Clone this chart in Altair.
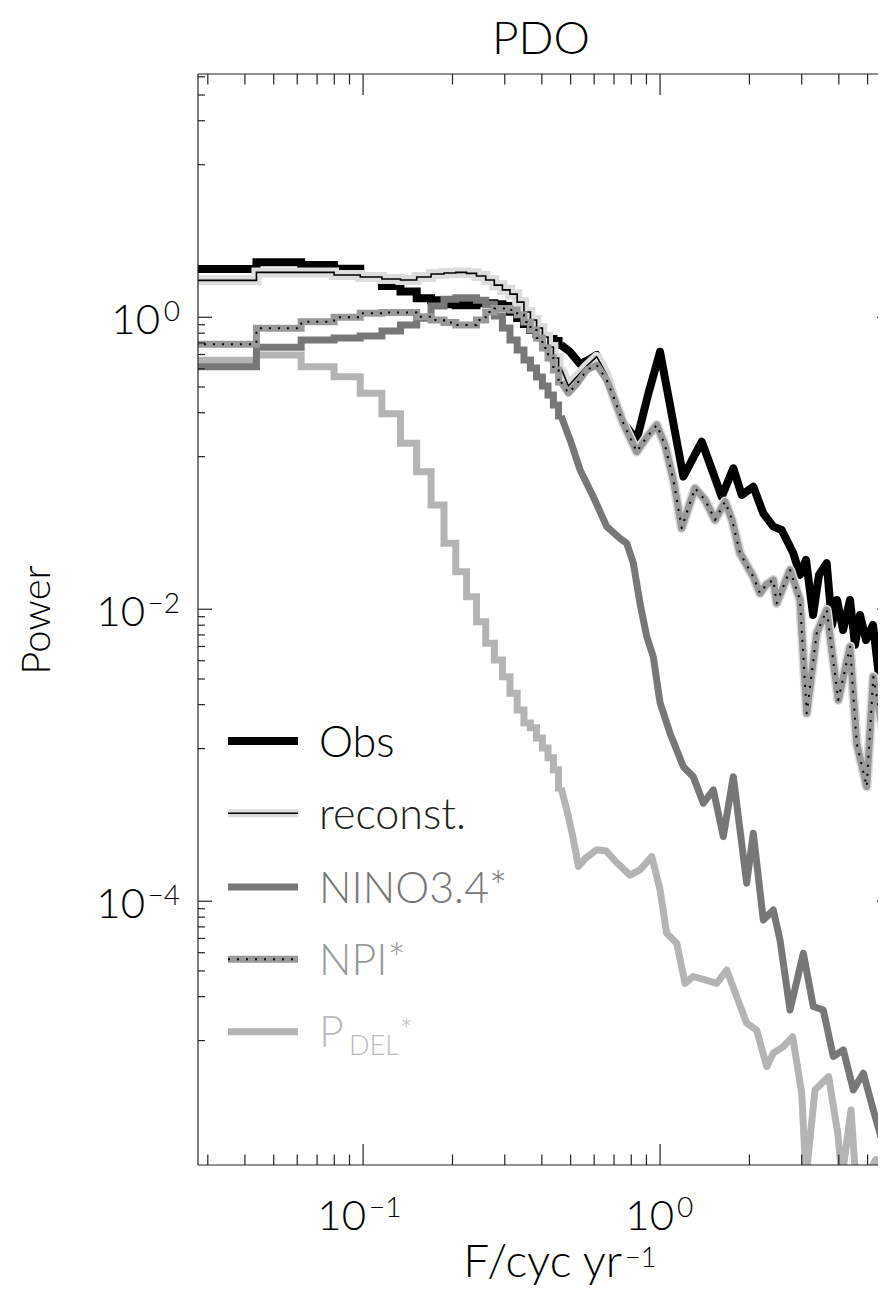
import altair as alt
import pandas as pd

W, H = 680, 1091          # plot area (its right edge falls on the page edge)
W_FULL = 693              # where the right axis of the original sits
FONT = "Lato"
FW = 300

# ---------------- data ----------------
# low-frequency stepped part (frequency grid, cyc/yr)
F_LO = [0.01786, 0.03571, 0.05357, 0.07143, 0.08929, 0.10714, 0.125, 0.14286,
        0.16071, 0.17857, 0.19643, 0.21429, 0.23214, 0.25, 0.26786, 0.28571,
        0.30357, 0.32143, 0.33929, 0.35714, 0.375, 0.39286, 0.41071, 0.42857,
        0.44643, 0.46429]

OBS_LO = [2.14, 2.14, 2.38, 2.28, 2.15, 1.89, 1.64, 1.50, 1.35, 1.31, 1.23, 1.21,
          1.21, 1.25, 1.25, 1.23, 1.195, 1.09, 0.989, 0.90, 0.818, 0.768, 0.733,
          0.710, 0.688, 0.646]
RECON_LO = [1.79, 1.79, 2.03, 2.03, 1.95, 1.89, 1.83, 1.80, 1.89, 1.98, 2.01, 2.03,
            2.0, 1.92, 1.80, 1.66, 1.54, 1.44, 1.27, 1.087, 0.958, 0.845, 0.733,
            0.626, 0.526, 0.449]
NINO_LO = [0.459, 0.459, 0.623, 0.699, 0.72, 0.745, 0.806, 0.886, 0.984, 1.195,
           1.33, 1.36, 1.36, 1.31, 1.23, 1.02, 0.845, 0.699, 0.597, 0.51, 0.449,
           0.39, 0.338, 0.294, 0.251, 0.211]
NPI_LO = [0.653, 0.653, 0.841, 0.933, 1.0, 1.065, 1.08, 1.08, 1.01, 0.958, 0.921,
          0.886, 0.886, 0.958, 1.087, 1.15, 1.15, 1.12, 1.04, 0.929, 0.818, 0.72,
          0.616, 0.526, 0.4356, 0.36]
PDEL_LO = [0.507, 0.507, 0.552, 0.459, 0.392, 0.3016, 0.218, 0.137, 0.0876, 0.0518,
           0.0283, 0.0181, 0.0122, 0.00822, 0.00585, 0.0045, 0.00345, 0.00266,
           0.00204, 0.00166, 0.00154, 0.00131, 0.00112, 0.00096, 0.000794, 0.000597]

# high-frequency part (read at peaks and troughs)
OBS_HI_F = [0.498, 0.538, 0.572, 0.612, 0.6615, 0.6964, 0.752, 0.8346, 0.911, 1.0,
            1.198, 1.382, 1.613, 1.765, 1.884, 2.061, 2.227, 2.407, 2.569, 2.811,
            2.96, 3.101, 3.276, 3.43, 3.641, 3.794, 3.945, 4.133, 4.363, 4.535,
            4.714, 4.939, 5.214, 5.505, 5.72, 5.95]
OBS_HI_P = [0.579, 0.479, 0.510, 0.552, 0.403, 0.286, 0.19, 0.1444, 0.294, 0.581,
            0.081, 0.1406, 0.059, 0.0924, 0.0607, 0.0691, 0.0454, 0.0368, 0.0349,
            0.0242, 0.0172, 0.0218, 0.00914, 0.0172, 0.0207, 0.0078, 0.01158,
            0.00721, 0.01158, 0.0057, 0.00914, 0.00616, 0.0078, 0.00303, 0.00886,
            0.00526]

RECON_HI_F = [0.491, 0.5665, 0.612, 0.6615, 0.6964, 0.752, 0.8346, 0.902, 0.975,
              1.039, 1.109, 1.183, 1.223, 1.311, 1.418, 1.532, 1.655, 1.748, 1.859,
              2.061, 2.171, 2.275, 2.407, 2.471, 2.74, 2.96, 3.119, 3.37, 3.641,
              3.984, 4.363, 4.596, 4.966, 5.226, 5.648, 5.95]
RECON_HI_P = [0.338, 0.464, 0.537, 0.403, 0.286, 0.188, 0.12, 0.151, 0.183, 0.1334,
              0.0768, 0.036, 0.0443, 0.0674, 0.0561, 0.0409, 0.0546, 0.0409, 0.0242,
              0.0167, 0.01287, 0.01467, 0.0159, 0.011, 0.0186, 0.01158, 0.00194,
              0.00685, 0.0099, 0.00239, 0.00554, 0.0012, 0.00061, 0.00345, 0.00141,
              0.000579]

NPI_HI_F = [0.491, 0.521, 0.5665, 0.612, 0.6615, 0.6964, 0.752, 0.8346, 0.902,
            0.975, 1.039, 1.109, 1.183, 1.223, 1.311, 1.418, 1.532, 1.655, 1.748,
            1.859, 2.061, 2.171, 2.275, 2.407, 2.471, 2.74, 2.96, 3.119, 3.37,
            3.641, 3.984, 4.363, 4.596, 4.966, 5.226, 5.648, 5.95]
NPI_HI_P = [0.303, 0.344, 0.4356, 0.471, 0.372, 0.286, 0.188, 0.12, 0.151, 0.183,
            0.1334, 0.0768, 0.036, 0.0443, 0.0674, 0.0561, 0.0409, 0.0546, 0.0409,
            0.0242, 0.0167, 0.01287, 0.01467, 0.0159, 0.011, 0.0186, 0.01158,
            0.00194, 0.00685, 0.0099, 0.00239, 0.00554, 0.0012, 0.00061, 0.00345,
            0.00141, 0.000579]

NINO_HI_F = [0.498, 0.538, 0.596, 0.6615, 0.733, 0.7725, 0.813, 0.856, 0.902,
             0.949, 1.0, 1.081, 1.198, 1.294, 1.399, 1.512, 1.633, 1.765, 1.958,
             2.061, 2.227, 2.407, 2.535, 2.74, 3.038, 3.282, 3.546, 3.832, 4.143,
             4.476, 4.836, 5.226, 5.62, 5.95]
NINO_HI_P = [0.1444, 0.09, 0.059, 0.0368, 0.0306, 0.0283, 0.0207, 0.011, 0.00649,
             0.00473, 0.00229, 0.00141, 0.000835, 0.000713, 0.000469, 0.000579,
             0.000277, 0.000713, 0.000133, 0.000292, 7.44e-5, 8.72e-5, 5.43e-5,
             1.80e-5, 4.40e-5, 1.90e-5, 1.80e-5, 8.62e-6, 9.58e-6, 5.10e-6, 6.64e-6,
             3.72e-6, 2.21e-6, 2.5e-6]

PDEL_HI_F = [0.49, 0.5095, 0.531, 0.563, 0.612, 0.658, 0.711, 0.792, 0.856, 0.938,
             1.0, 1.053, 1.138, 1.214, 1.294, 1.418, 1.552, 1.677, 1.812, 1.958,
             2.116, 2.287, 2.407, 2.601, 2.796, 3.0, 3.101, 3.326, 3.696, 3.966,
             4.101, 4.397, 4.556, 5.054, 5.337, 5.767]
PDEL_HI_P = [0.00039, 0.000271, 0.000173, 0.000198, 0.000225, 0.000221, 0.000186,
             0.000151, 0.000164, 0.000202, 0.0001195, 6.04e-5, 5.16e-5, 2.74e-5,
             3.05e-5, 2.89e-5, 2.74e-5, 3.38e-5, 2.22e-5, 1.46e-5, 1.31e-5, 7.36e-6,
             9.10e-6, 1.01e-5, 1.18e-5, 4.84e-6, 1.28e-6, 5.10e-6, 6.29e-6, 2.58e-6,
             1.28e-6, 3.72e-6, 1.28e-6, 1.4e-6, 1.7e-6, 1.28e-6]

# axes
X_DOMAIN = [0.0278, 5.42]
Y_DOMAIN = [1.56e-6, 46.4]
X_MAJOR = [0.1, 1.0]
X_MINOR = [0.03, 0.04, 0.05, 0.06, 0.07, 0.08, 0.09, 0.2, 0.3, 0.4, 0.5, 0.6,
           0.7, 0.8, 0.9, 2.0, 3.0, 4.0, 5.0]
X_EXP = ["\u22121", "0"]
Y_MAJOR = [1e-4, 1e-2, 1.0]
Y_MINOR = [1.11e-5, 2.22e-5, 3.33e-5, 4.44e-5, 5.56e-5, 6.67e-5, 7.78e-5, 8.89e-5,
           1.11e-3, 2.22e-3, 3.33e-3, 4.44e-3, 5.56e-3, 6.67e-3, 7.78e-3, 8.89e-3,
           0.111, 0.222, 0.333, 0.444, 0.556, 0.667, 0.778, 0.889,
           11.1, 22.2, 33.3, 44.4]
Y_EXP = ["\u22124", "\u22122", "0"]

LEGEND = ["Obs", "reconst.", "NINO3.4*", "NPI*", "P"]

# ---------------- chart ----------------
xs = alt.Scale(type="log", domain=X_DOMAIN, nice=False)
ys = alt.Scale(type="log", domain=Y_DOMAIN, nice=False)


def df_lo(vals):
    return pd.DataFrame({"f": F_LO, "p": vals})


def df_hi(fs, ps, lo_vals):
    return pd.DataFrame({"f": [F_LO[-1]] + list(fs), "p": [lo_vals[-1]] + list(ps)})


def line(df, color, width, interp, dash=None):
    kw = dict(color=color, strokeWidth=width, interpolate=interp, clip=True,
              strokeJoin="round" if interp == "linear" else "miter")
    if dash:
        kw["strokeDash"] = dash
    return alt.Chart(df).mark_line(**kw).encode(
        x=alt.X("f:Q", scale=xs, axis=None),
        y=alt.Y("p:Q", scale=ys, axis=None),
    )


def series(lo, hf, hp, color, width, dash=None):
    return [line(df_lo(lo), color, width, "step", dash),
            line(df_hi(hf, hp, lo), color, width, "linear", dash)]


layers = []
layers += series(OBS_LO, OBS_HI_F, OBS_HI_P, "#000000", 8)
layers += series(RECON_LO, RECON_HI_F, RECON_HI_P, "#dcdcdc", 10)
layers += series(RECON_LO, RECON_HI_F, RECON_HI_P, "#000000", 1.6)
layers += series(PDEL_LO, PDEL_HI_F, PDEL_HI_P, "#b4b4b4", 7)
layers += series(NINO_LO, NINO_HI_F, NINO_HI_P, "#777777", 7)
layers += series(NPI_LO, NPI_HI_F, NPI_HI_P, "#999999", 7)
layers += series(NPI_LO, NPI_HI_F, NPI_HI_P, "#000000", 2, dash=[2, 7])

one = pd.DataFrame({"a": [0]})

# frame (left, top, bottom; the right one lies past the page edge)
AX = "#222222"
layers.append(alt.Chart(one).mark_rule(color=AX, strokeWidth=1.2).encode(
    x=alt.value(0), y=alt.value(0), y2=alt.value(H)))
for yy in (0, H):
    layers.append(alt.Chart(one).mark_rule(color=AX, strokeWidth=1.2).encode(
        x=alt.value(0), x2=alt.value(W_FULL), y=alt.value(yy)))


def xticks(vals, length):
    d = pd.DataFrame({"v": vals})
    out = []
    for y0, y1 in [(H, H - length), (0, length)]:
        out.append(alt.Chart(d).mark_rule(color=AX, strokeWidth=1.2).encode(
            x=alt.X("v:Q", scale=xs, axis=None), y=alt.value(y0), y2=alt.value(y1)))
    return out


def yticks(vals, length):
    d = pd.DataFrame({"v": vals})
    out = []
    for x0, x1 in [(0, length), (W_FULL, W_FULL - length)]:
        out.append(alt.Chart(d).mark_rule(color=AX, strokeWidth=1.2).encode(
            y=alt.Y("v:Q", scale=ys, axis=None), x=alt.value(x0), x2=alt.value(x1)))
    return out


layers += xticks(X_MINOR, 10.5) + xticks(X_MAJOR, 21)
layers += yticks(Y_MINOR, 7) + yticks(Y_MAJOR, 14)


def tlabel(enc, text, size, align, dx, dy, color="black"):
    return alt.Chart(enc[0]).mark_text(
        text=text, font=FONT, fontWeight=FW, fontSize=size, align=align,
        baseline="alphabetic", dx=dx, dy=dy, color=color).encode(**enc[1])


# x tick labels: "10" plus a raised exponent
for v, e, bdx, sdx in zip(X_MAJOR, X_EXP, [3, 14], [6, 17]):
    d = pd.DataFrame({"v": [v]})
    enc = (d, dict(x=alt.X("v:Q", scale=xs, axis=None), y=alt.value(H)))
    layers.append(tlabel(enc, "10", 42, "right", bdx, 65))
    layers.append(tlabel(enc, e, 28, "left", sdx, 52))

# y tick labels
for v, e, bx in zip(Y_MAJOR, Y_EXP, [-53, -53, -38]):
    d = pd.DataFrame({"v": [v]})
    enc_b = (d, dict(y=alt.Y("v:Q", scale=ys, axis=None), x=alt.value(bx)))
    enc_s = (d, dict(y=alt.Y("v:Q", scale=ys, axis=None), x=alt.value(-18)))
    layers.append(tlabel(enc_b, "10", 42, "right", 0, 17))
    layers.append(tlabel(enc_s, e, 28, "right", 0, 4))


def txt(s, x, y, size, color="black", align="left", baseline="alphabetic", angle=0):
    kw = dict(text=s, font=FONT, fontSize=size, fontWeight=FW, color=color,
              align=align, baseline=baseline)
    if angle:
        kw["angle"] = angle
    return alt.Chart(one).mark_text(**kw).encode(x=alt.value(x), y=alt.value(y))


# titles
layers.append(txt("PDO", 343, -20, 46, align="center"))
layers.append(txt("F/cyc yr", 424, H + 112, 46, align="right"))
layers.append(txt("\u22121", 427, H + 102, 27))
layers.append(txt("Power", -148, 546, 40, align="center", angle=270))

# legend
ROW_Y = [667, 739.3, 813, 885.3, 957.7]
LX0, LX1, TX = 30, 100, 121


def seg(y, color, width, dash=None):
    kw = dict(color=color, strokeWidth=width)
    if dash:
        kw["strokeDash"] = dash
    return alt.Chart(one).mark_rule(**kw).encode(
        x=alt.value(LX0), x2=alt.value(LX1), y=alt.value(y))


layers.append(seg(ROW_Y[0], "#000000", 8))
layers.append(seg(ROW_Y[1], "#dcdcdc", 8))
layers.append(seg(ROW_Y[1], "#000000", 1.6))
layers.append(seg(ROW_Y[2], "#777777", 7))
layers.append(seg(ROW_Y[3], "#999999", 7))
layers.append(seg(ROW_Y[3], "#000000", 2, dash=[2, 7]))
layers.append(seg(ROW_Y[4], "#b4b4b4", 7))

LCOL = ["#000000", "#222222", "#777777", "#999999", "#bbbbbb"]
for i in range(4):
    layers.append(txt(LEGEND[i], TX, ROW_Y[i] + 16, 43, color=LCOL[i]))
layers.append(txt("P", TX, ROW_Y[4] + 15, 43, color=LCOL[4]))
layers.append(txt("DEL", TX + 30, ROW_Y[4] + 23, 27, color=LCOL[4]))
layers.append(txt("*", TX + 81, ROW_Y[4] + 8, 30, color=LCOL[4]))

chart = alt.layer(*layers).properties(
    width=W, height=H, autosize="none",
    padding={"left": 190, "top": 66, "right": 0, "bottom": 124},
).configure_view(stroke=None)

chart.save("out.html", embed_options={"renderer": "svg", "actions": False})
